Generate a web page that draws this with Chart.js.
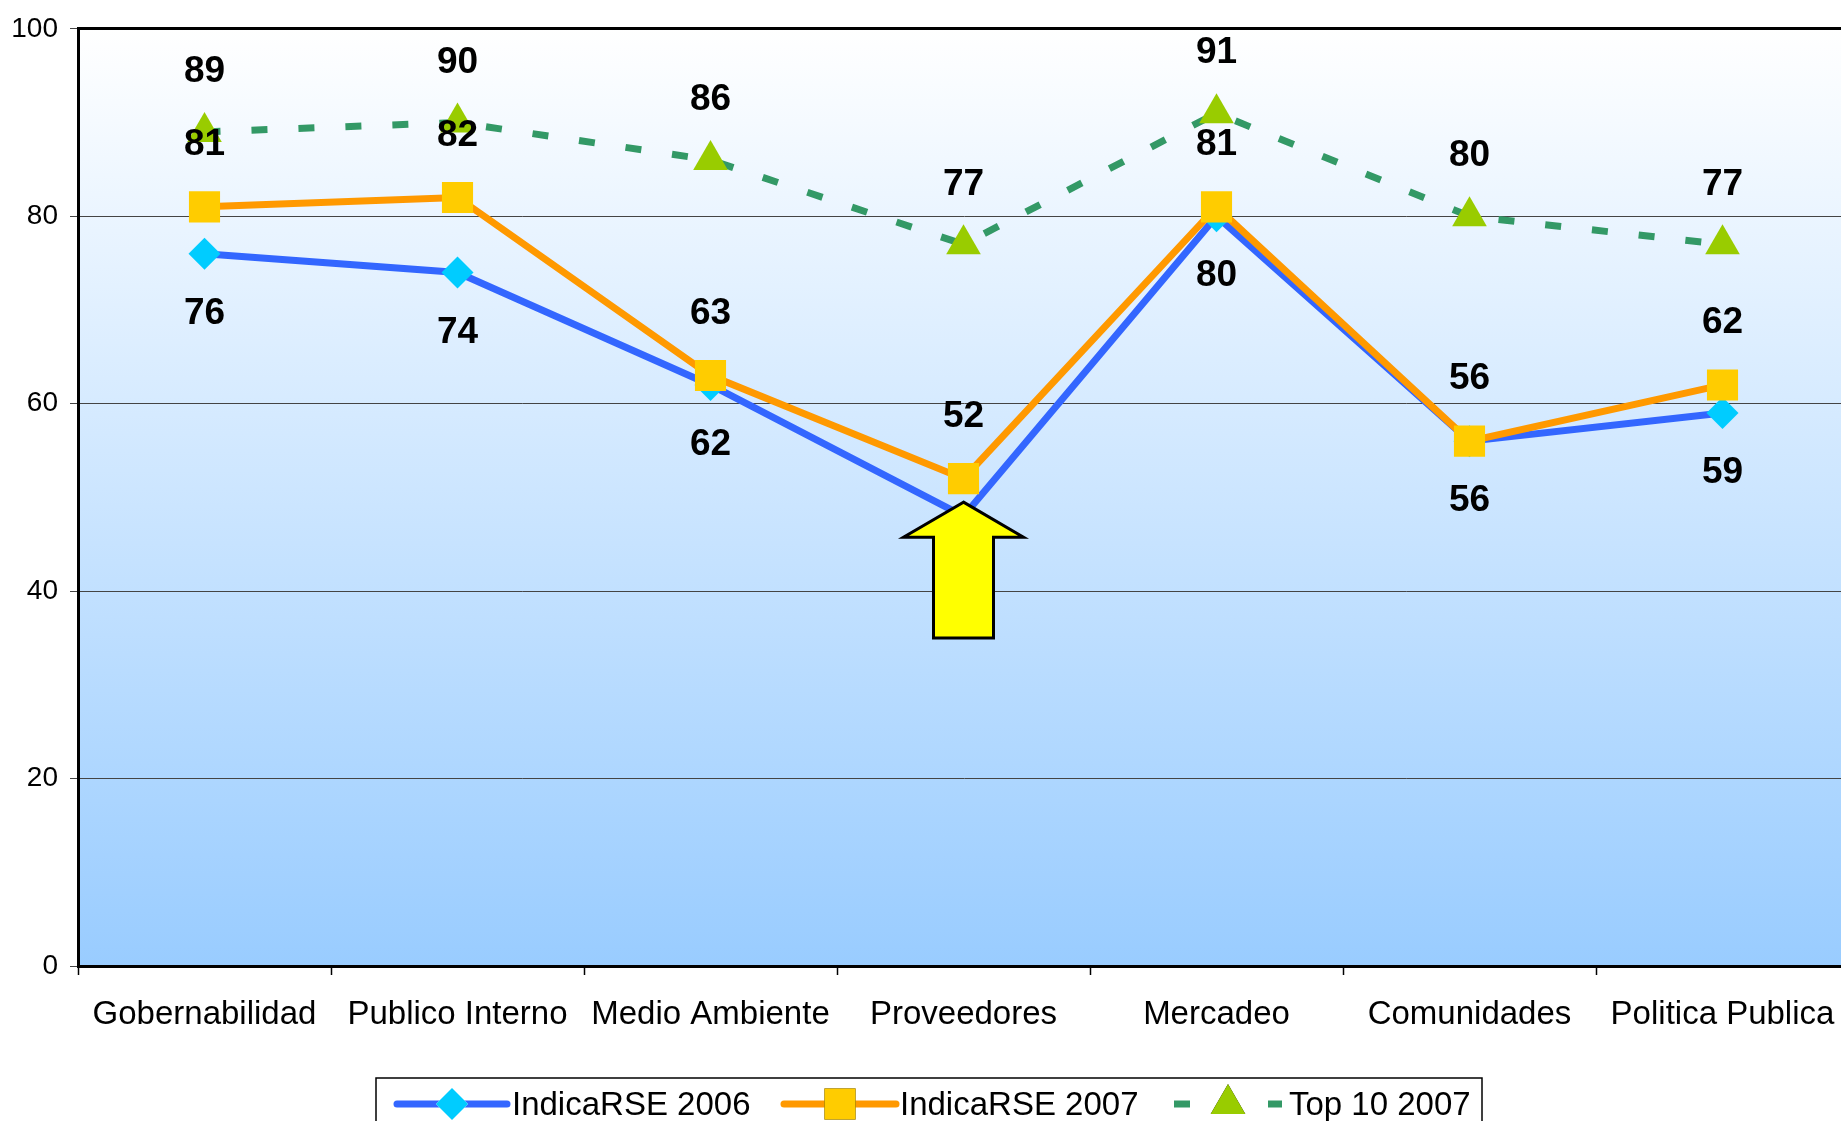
<!DOCTYPE html>
<html>
<head>
<meta charset="utf-8">
<title>IndicaRSE</title>
<script src="https://cdn.jsdelivr.net/npm/chart.js@4.4.1/dist/chart.umd.min.js"></script>
<style>
  html, body { margin: 0; padding: 0; background: #fff; overflow: hidden; }
  #rseChart { position: absolute; left: 0; top: 0; }
</style>
</head>
<body>
<canvas id="rseChart" width="1871" height="1121"></canvas>
<script>
const categories = ["Gobernabilidad", "Publico Interno", "Medio Ambiente", "Proveedores", "Mercadeo", "Comunidades", "Politica Publica"];
const indica2006 = [76, 74, 62, 48, 80, 56, 59];
const indica2007 = [81, 82, 63, 52, 81, 56, 62];
const top10_2007 = [89, 90, 86, 77, 91, 80, 77];
const yTicks = [0, 20, 40, 60, 80, 100];

// arrow marks the Proveedores drop, from value 35 up to the 2006 point
const arrowCategory = "Proveedores";
const arrowBase = 35;

const FONT = "'Liberation Sans', Arial, sans-serif";

// plot background: white at the top fading to light blue
const bgPlugin = {
  id: "bg",
  beforeDraw(chart) {
    const { ctx, chartArea: a } = chart;
    const g = ctx.createLinearGradient(0, a.top, 0, a.bottom);
    g.addColorStop(0, "#ffffff");
    g.addColorStop(1, "#99ccff");
    ctx.save();
    ctx.fillStyle = g;
    ctx.fillRect(a.left, a.top, a.right - a.left, a.bottom - a.top);
    ctx.restore();
  }
};

// value labels, arrow and the legend box
const overlayPlugin = {
  id: "overlay",
  afterDatasetsDraw(chart) {
    const ctx = chart.ctx;
    const offsets = [60, -62, -60];
    ctx.save();
    ctx.font = "bold 37px " + FONT;
    ctx.fillStyle = "#000";
    ctx.textAlign = "center";
    ctx.textBaseline = "middle";
    chart.data.datasets.forEach((ds, i) => {
      chart.getDatasetMeta(i).data.forEach((pt, j) => {
        ctx.fillText(String(ds.data[j]), pt.x, pt.y + offsets[i]);
      });
    });
    ctx.restore();

    // arrow
    const xs = chart.scales.x, ys = chart.scales.y;
    const idx = categories.indexOf(arrowCategory);
    const ax = xs.getPixelForValue(idx);
    const tip = ys.getPixelForValue(indica2006[idx]) - 14;
    const bottom = ys.getPixelForValue(arrowBase);
    const headY = tip + 35;
    ctx.save();
    ctx.beginPath();
    ctx.moveTo(ax, tip);
    ctx.lineTo(ax + 60, headY);
    ctx.lineTo(ax + 30, headY);
    ctx.lineTo(ax + 30, bottom);
    ctx.lineTo(ax - 30, bottom);
    ctx.lineTo(ax - 30, headY);
    ctx.lineTo(ax - 60, headY);
    ctx.closePath();
    ctx.fillStyle = "#ffff00";
    ctx.fill();
    ctx.lineWidth = 3;
    ctx.lineJoin = "miter";
    ctx.strokeStyle = "#000";
    ctx.stroke();
    ctx.restore();
  },
  afterDraw(chart) {
    const ctx = chart.ctx;
    ctx.save();
    ctx.fillStyle = "#fff";
    ctx.fillRect(376, 1078, 1106, 60);
    ctx.strokeStyle = "#000";
    ctx.lineWidth = 1.5;
    ctx.strokeRect(376, 1078, 1106, 60);

    const cy = 1104;
    const items = [
      { x0: 397, x1: 507, tx: 512, ds: chart.data.datasets[0] },
      { x0: 784, x1: 896, tx: 900, ds: chart.data.datasets[1] },
      { x0: 1174, x1: 1282, tx: 1289, ds: chart.data.datasets[2] }
    ];
    items.forEach(it => {
      const ds = it.ds;
      ctx.save();
      ctx.strokeStyle = ds.borderColor;
      ctx.lineWidth = ds.borderWidth;
      ctx.setLineDash(ds.borderDash || []);
      ctx.lineCap = ds.borderDash ? "butt" : "round";
      ctx.beginPath();
      ctx.moveTo(it.x0, cy);
      ctx.lineTo(it.x1, cy);
      ctx.stroke();
      ctx.restore();
      Chart.helpers.drawPoint(ctx, {
        pointStyle: ds.pointStyle,
        radius: ds.pointRadius,
        borderWidth: 0,
        rotation: 0
      }, (it.x0 + it.x1) / 2, cy);
      ctx.fillStyle = ds.pointBackgroundColor;
      ctx.fill();
      ctx.fillStyle = "#000";
      ctx.font = "33px " + FONT;
      ctx.textAlign = "left";
      ctx.textBaseline = "middle";
      ctx.fillText(ds.label, it.tx, cy + 2);
    });
    ctx.restore();
  }
};

const chart = new Chart(document.getElementById("rseChart"), {
  type: "line",
  data: {
    labels: categories,
    datasets: [
      {
        label: "IndicaRSE 2006",
        data: indica2006,
        borderColor: "#3366ff",
        borderWidth: 7,
        pointStyle: "rectRot",
        pointRadius: 16,
        pointBackgroundColor: "#00ccff",
        pointBorderWidth: 0,
        order: 3
      },
      {
        label: "IndicaRSE 2007",
        data: indica2007,
        borderColor: "#ff9900",
        borderWidth: 7,
        pointStyle: "rect",
        pointRadius: 22,
        pointBackgroundColor: "#ffcc00",
        pointBorderWidth: 0,
        order: 2
      },
      {
        label: "Top 10 2007",
        data: top10_2007,
        borderColor: "#339966",
        borderWidth: 7,
        borderDash: [16, 31],
        pointStyle: "triangle",
        pointRadius: 20,
        pointBackgroundColor: "#99cc00",
        pointBorderWidth: 0,
        order: 1
      }
    ]
  },
  options: {
    responsive: false,
    animation: false,
    layout: { padding: { top: 26, left: 0, right: 0, bottom: 0 } },
    plugins: {
      legend: { display: false },
      tooltip: { enabled: false }
    },
    elements: { line: { tension: 0 } },
    scales: {
      x: {
        offset: true,
        afterFit(scale) {
          scale.height = 155;
        },
        grid: {
          offset: true,
          drawOnChartArea: false,
          tickLength: 9,
          tickColor: "#000",
          tickWidth: 1.5
        },
        border: { color: "#000", width: 3 },
        ticks: {
          color: "#000",
          font: { family: FONT, size: 33 },
          padding: 20,
          maxRotation: 0,
          autoSkip: false
        }
      },
      y: {
        min: yTicks[0],
        max: yTicks[yTicks.length - 1],
        afterFit(scale) { scale.width = 78; },
        afterBuildTicks(scale) { scale.ticks = yTicks.map(v => ({ value: v })); },
        grid: {
          color: c => (c.tick && c.tick.value === 100 ? "#000" : "#444"),
          lineWidth: c => (c.tick && c.tick.value === 100 ? 3 : 1),
          tickLength: 8,
          tickColor: "#444",
          tickWidth: 1
        },
        border: { color: "#000", width: 3 },
        ticks: {
          color: "#000",
          font: { family: FONT, size: 28 },
          padding: 12
        }
      }
    }
  },
  plugins: [bgPlugin, overlayPlugin]
});
</script>
</body>
</html>
